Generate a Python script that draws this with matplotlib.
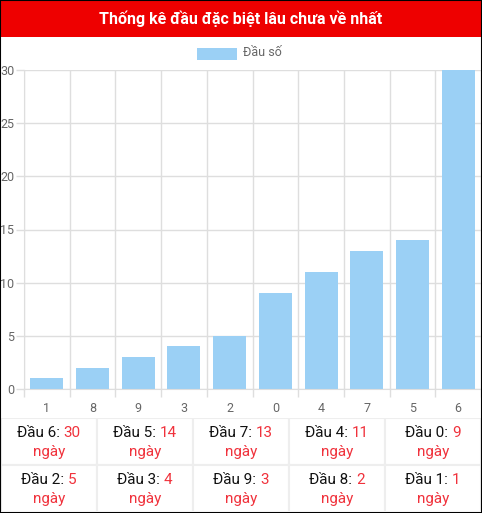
import matplotlib

matplotlib.use("Agg")
import matplotlib.pyplot as plt
from matplotlib.patches import Rectangle

plt.rcParams["font.family"] = ["Roboto", "DejaVu Sans"]

W, H = 482, 513
RED = "#EE0000"
BAR = "#9BD0F5"
GRID = "#DEDEDE"
NUMRED = "#F0323C"

categories = ["1", "8", "9", "3", "2", "0", "4", "7", "5", "6"]
days = [1, 2, 3, 4, 5, 9, 11, 13, 14, 30]
yticks = [0, 5, 10, 15, 20, 25, 30]

table_heads = ["6", "5", "7", "4", "0", "2", "3", "9", "8", "1"]
table_days = [30, 14, 13, 11, 9, 5, 4, 3, 2, 1]


def px(x, y, w, h):
    # pixel box (top-left origin) -> figure fraction
    return [x / W, 1 - (y + h) / H, w / W, h / H]


fig = plt.figure(figsize=(W / 100, H / 100), dpi=100)
fig.patch.set_facecolor("white")

# header bar
fig.patches.append(Rectangle((0, 1 - 37 / H), 1, 37 / H, transform=fig.transFigure,
                             fc=RED, ec="none", zorder=0))
fig.text(0.5, 1 - 18.5 / H, "Thống kê đầu đặc biệt lâu chưa về nhất", ha="center",
         va="center", color="white", fontsize=11.5, fontweight="bold")

# legend
fig.patches.append(Rectangle((197 / W, 1 - 60 / H), 40 / W, 12 / H,
                             transform=fig.transFigure, fc=BAR, ec="none"))
fig.text(243 / W, 1 - 53 / H, "Đầu số", ha="left", va="center", color="#666666",
         fontsize=9)

# bar chart
ax = fig.add_axes(px(24, 70, 457, 319))
xs = range(len(categories))
ax.bar(xs, days, width=0.72, color=BAR, edgecolor="none", zorder=2)
ax.set_xlim(-0.5, len(categories) - 0.5)
ax.set_ylim(0, 30)
ax.set_yticks(yticks)
ax.set_yticklabels([str(v) for v in yticks], color="#666666", fontsize=9)
ax.set_xticks([i - 0.5 for i in xs] + [len(categories) - 0.5])
ax.set_xticklabels([])
ax.set_xticks(list(xs), minor=True)
ax.set_xticklabels(categories, minor=True, color="#666666", fontsize=9)
ax.tick_params(axis="x", which="major", length=6, color=GRID, width=1)
ax.tick_params(axis="x", which="minor", length=0, pad=9)
ax.tick_params(axis="y", length=6, color=GRID, width=1, pad=1)
ax.grid(True, which="major", color=GRID, lw=1, zorder=0)
for s in ["top", "right"]:
    ax.spines[s].set_visible(False)
for s in ["left", "bottom"]:
    ax.spines[s].set_color(GRID)

# table of days
tab = fig.add_axes(px(1, 418, 480, 93))
tab.set_xlim(0, 480)
tab.set_ylim(93, 0)
tab.axis("off")
col_w = 96
row_h = 47
fig.canvas.draw()
renderer = fig.canvas.get_renderer()
for i, (head, n) in enumerate(zip(table_heads, table_days)):
    r, c = divmod(i, 5)
    x0, y0 = c * col_w, r * row_h
    tab.add_patch(Rectangle((x0, y0), col_w, row_h, fc="white", ec="#EEEEEE", lw=1.5))
    cx = x0 + col_w / 2
    t1 = tab.text(cx, y0 + 15, f"Đầu {head}: ", ha="left", va="center",
                  color="#111111", fontsize=11)
    t2 = tab.text(cx, y0 + 15, str(n), ha="left", va="center", color=NUMRED,
                  fontsize=11)
    w1 = t1.get_window_extent(renderer).width
    w2 = t2.get_window_extent(renderer).width
    start = cx - (w1 + w2) / 2
    t1.set_x(start)
    t2.set_x(start + w1)
    tab.text(cx, y0 + 34, "ngày", ha="center", va="center", color=NUMRED,
             fontsize=11)

# outer frame
fig.patches.append(Rectangle((0, 0), 1, 1, transform=fig.transFigure, fc="none",
                             ec="black", lw=1.5, zorder=10))

fig.savefig("out.png", dpi=100)
